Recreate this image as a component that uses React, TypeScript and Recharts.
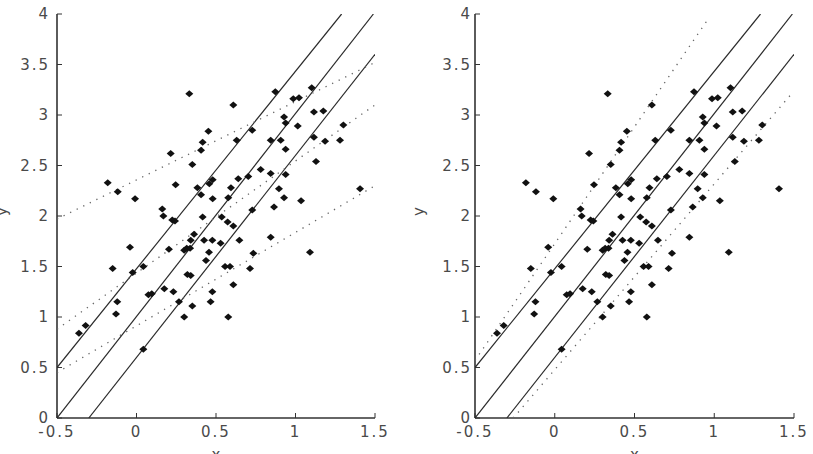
import { ScatterChart, Scatter, XAxis, YAxis } from 'recharts'

// observations (same sample in both panels)
const pointX = [
  -0.181, -0.118, -0.009, 0.332, 0.609, 0.215, 0.351, 0.406, 0.416, 0.452,
  0.63, 0.728, 0.873, 0.986, 1.022, 1.102, 1.116, 1.175, 0.928, 0.938,
  1.014, 1.301, 1.116, 1.186, 1.28, 0.844, 0.907, 0.938, 1.129, 1.406,
  0.246, 0.383, 0.406, 0.458, 0.479, 0.479, 0.594, 0.577, 0.64, 0.703,
  0.781, 0.844, 0.938, 0.896, 0.928, 1.035, 0.728, 0.865, 0.162, 0.169,
  0.225, 0.242, 0.416, 0.536, 0.573, 0.609, 0.362, 0.341, 0.425, 0.477,
  0.529, 0.647, 0.844, 1.091, -0.041, 0.204, 0.3, 0.316, 0.337, 0.456,
  0.437, 0.735, -0.15, -0.024, 0.043, 0.557, 0.588, 0.714, 0.32, 0.341,
  0.609, 0.175, 0.232, 0.075, 0.096, 0.477, 0.267, 0.466, 0.351, -0.121,
  -0.129, 0.3, 0.577, -0.32, -0.362, 0.043,
]
const pointY = [
  2.33, 2.24, 2.17, 3.21, 3.1, 2.62, 2.51, 2.65, 2.73, 2.84,
  2.75, 2.85, 3.23, 3.16, 3.17, 3.27, 3.03, 3.04, 2.98, 2.92,
  2.89, 2.9, 2.78, 2.74, 2.75, 2.75, 2.75, 2.66, 2.54, 2.27,
  2.31, 2.28, 2.21, 2.32, 2.36, 2.17, 2.28, 2.18, 2.37, 2.39,
  2.46, 2.42, 2.41, 2.27, 2.18, 2.15, 2.06, 2.09, 2.07, 2.0,
  1.96, 1.95, 1.99, 1.99, 1.94, 1.9, 1.82, 1.76, 1.76, 1.76,
  1.73, 1.76, 1.79, 1.64, 1.69, 1.67, 1.66, 1.68, 1.68, 1.64,
  1.56, 1.63, 1.48, 1.44, 1.5, 1.5, 1.5, 1.48, 1.42, 1.41,
  1.32, 1.28, 1.25, 1.22, 1.23, 1.25, 1.15, 1.15, 1.11, 1.15,
  1.03, 1.0, 1.0, 0.915, 0.84, 0.68,
]

// solid lines (both panels)
const solidUpper = [[-0.5, 0.5], [1.29, 4]]
const solidMiddle = [[-0.5, 0], [1.49, 4]]
const solidLower = [[-0.3, 0], [1.5, 3.6]]

// dotted lines, left panel
const leftDotUpper = [[-0.5, 1.97], [1.5, 3.52]]
const leftDotMiddle = [[-0.5, 0.88], [1.5, 3.1]]
const leftDotLower = [[-0.5, 0.45], [1.5, 2.3]]

// dotted lines, right panel
const rightDotUpper = [[-0.5, 0.57], [0.97, 3.97]]
const rightDotLower = [[-0.26, 0], [1.49, 3.22]]

const xTicks = [-0.5, 0, 0.5, 1, 1.5]
const yTicks = [0, 0.5, 1, 1.5, 2, 2.5, 3, 3.5, 4]

const points = pointX.map((x, i) => ({ x, y: pointY[i] }))
const toXY = (pts: number[][]) => pts.map(([x, y]) => ({ x, y }))

const tickStyle = { fontFamily: 'DejaVu Sans, sans-serif', fontSize: 15, fill: '#4a4a4a', letterSpacing: 2 }
const labelStyle = { fontFamily: 'DejaVu Sans, sans-serif', fontSize: 15, fill: '#4a4a4a' }

const Diamond = (props: any) => {
  const { cx, cy } = props
  if (cx == null || cy == null) return <g />
  return (
    <polygon
      points={`${cx - 4},${cy} ${cx},${cy - 3.5} ${cx + 4},${cy} ${cx},${cy + 3.5}`}
      fill="#111"
    />
  )
}

const NoDot = () => <g />

interface PanelProps {
  yAxisWidth: number
  rightMargin: number
  yTickMargin: number
  yLabelOffset: number
  dotted: number[][][]
}

function Panel({ yAxisWidth, rightMargin, yTickMargin, yLabelOffset, dotted }: PanelProps) {
  return (
    <ScatterChart
      width={406}
      height={454}
      margin={{ top: 14, right: rightMargin, left: 0, bottom: 6 }}
    >
      <XAxis
        type="number"
        dataKey="x"
        domain={[-0.5, 1.5]}
        ticks={xTicks}
        allowDataOverflow
        height={30}
        tickSize={-5}
        tickMargin={13}
        tick={tickStyle}
        axisLine={{ stroke: '#333', strokeWidth: 1.6 }}
        tickLine={{ stroke: '#333' }}
        label={{ value: 'x', position: 'insideBottom', offset: -12, style: labelStyle }}
      />
      <YAxis
        type="number"
        dataKey="y"
        domain={[0, 4]}
        ticks={yTicks}
        allowDataOverflow
        width={yAxisWidth}
        tickSize={-5}
        tickMargin={yTickMargin}
        tick={tickStyle}
        axisLine={{ stroke: '#333', strokeWidth: 1.6 }}
        tickLine={{ stroke: '#333' }}
        label={{ value: 'y', angle: -90, position: 'insideLeft', offset: yLabelOffset, style: labelStyle }}
      />
      {[solidUpper, solidMiddle, solidLower].map((l, i) => (
        <Scatter
          key={'s' + i}
          data={toXY(l)}
          line={{ stroke: '#2a2a2a', strokeWidth: 1.2 }}
          shape={NoDot}
          isAnimationActive={false}
        />
      ))}
      {dotted.map((l, i) => (
        <Scatter
          key={'d' + i}
          data={toXY(l)}
          line={{ stroke: '#666', strokeWidth: 1.3, strokeDasharray: '1.3 6' }}
          shape={NoDot}
          isAnimationActive={false}
        />
      ))}
      <Scatter data={points} shape={Diamond} isAnimationActive={false} />
    </ScatterChart>
  )
}

export default function App() {
  return (
    <div style={{ position: 'absolute', left: 0, top: 0, width: 813, height: 454, background: '#fff', display: 'flex', overflow: 'hidden' }}>
      <Panel yAxisWidth={57} rightMargin={31} yTickMargin={12} yLabelOffset={2} dotted={[leftDotUpper, leftDotMiddle, leftDotLower]} />
      <Panel yAxisWidth={69} rightMargin={18} yTickMargin={8} yLabelOffset={13} dotted={[rightDotUpper, rightDotLower]} />
    </div>
  )
}
